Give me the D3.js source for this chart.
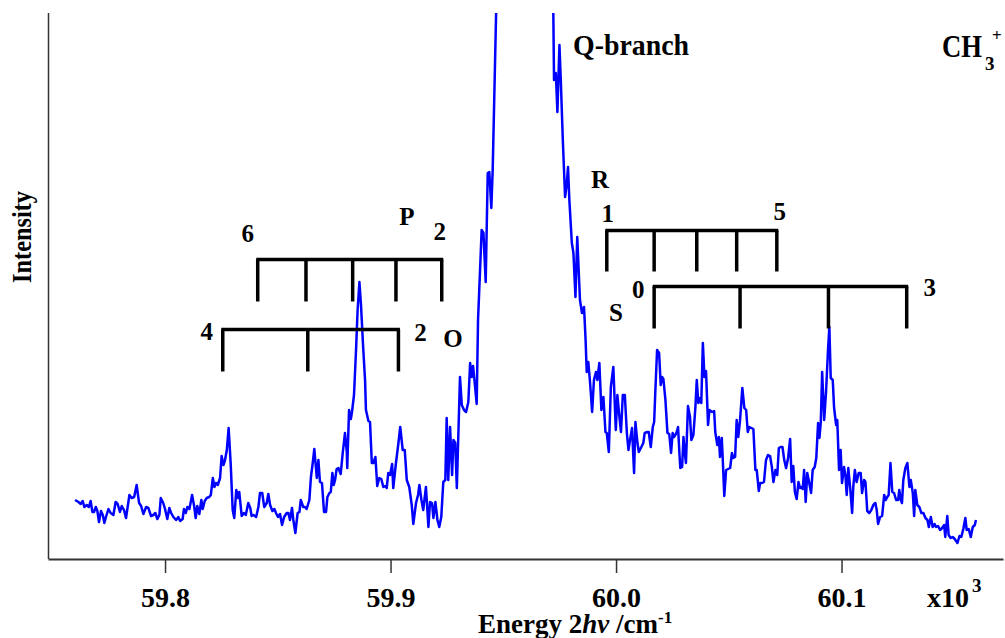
<!DOCTYPE html>
<html><head><meta charset="utf-8">
<script src="https://cdn.jsdelivr.net/npm/d3@7"></script>
<style>
html,body{margin:0;padding:0;background:#fff;}
svg{display:block;}
text{font-family:"Liberation Serif","Times New Roman",serif;font-weight:bold;fill:#000;}
</style></head>
<body><svg id="c" width="1005" height="638"></svg>
<script>
// ---- data: photoelectron spectrum of CH3+ (energy in cm^-1, intensity in arb. units)
const energy = [59760.1,59761.6,59762.6,59763.5,59764.2,59765.3,59766.2,59767.0,59767.8,59768.5,59769.3,59770.0,59770.7,59771.6,59772.4,59773.1,59773.8,59774.9,59775.9,59777.1,59778.1,59779.0,59780.0,59780.8,59781.8,59782.7,59784.2,59785.2,59786.3,59787.4,59788.5,59789.4,59790.4,59791.6,59792.6,59793.8,59794.8,59795.7,59796.6,59797.5,59798.1,59799.2,59800.0,59801.0,59801.9,59802.7,59803.7,59804.9,59805.9,59806.7,59807.8,59808.4,59809.2,59809.9,59810.8,59812.0,59812.9,59813.6,59814.3,59815.2,59816.1,59816.7,59817.6,59818.5,59819.6,59820.3,59821.2,59821.9,59822.6,59823.4,59824.4,59825.1,59825.9,59826.6,59827.4,59828.2,59829.1,59830.0,59830.7,59831.6,59832.4,59832.9,59834.0,59835.0,59835.8,59836.9,59837.8,59838.4,59839.2,59840.4,59841.4,59842.1,59843.1,59844.0,59845.1,59845.8,59846.6,59847.6,59848.5,59849.2,59850.1,59851.0,59851.9,59852.8,59854.0,59854.7,59855.4,59856.3,59856.9,59857.8,59858.8,59859.6,59860.2,59861.3,59862.1,59862.8,59864.0,59864.7,59865.5,59866.2,59867.3,59868.0,59868.7,59869.6,59870.5,59871.4,59872.0,59872.9,59873.5,59874.2,59874.8,59875.4,59876.1,59876.9,59877.9,59878.8,59879.8,59880.6,59880.8,59881.6,59882.4,59882.9,59883.8,59884.7,59885.4,59886.2,59886.9,59887.8,59888.7,59889.1,59890.2,59890.9,59891.7,59892.4,59893.3,59894.1,59895.0,59895.9,59896.8,59897.7,59898.3,59899.0,59899.8,59900.7,59901.2,59902.4,59903.5,59904.3,59905.4,59906.3,59907.2,59908.3,59909.4,59910.1,59911.3,59912.2,59912.8,59913.7,59914.5,59915.7,59916.8,59917.5,59918.4,59919.0,59919.9,59920.8,59921.6,59922.5,59923.4,59924.3,59924.9,59925.6,59926.4,59927.3,59927.9,59928.7,59929.4,59930.8,59931.6,59932.6,59933.5,59934.5,59935.3,59936.0,59936.6,59937.5,59938.2,59938.8,59939.7,59940.4,59941.2,59942.2,59943.1,59943.8,59944.7,59945.3,59946.8,59947.7,59953.0,59959.7,59966.3,59971.4,59972.2,59972.5,59973.3,59974.0,59974.9,59975.5,59976.4,59977.4,59978.1,59978.7,59979.3,59980.4,59981.1,59982.0,59982.8,59984.0,59984.9,59985.8,59986.5,59987.0,59987.7,59988.5,59989.4,59990.2,59991.1,59991.7,59992.6,59993.5,59994.4,59995.3,59995.9,59996.8,59997.7,59998.8,59999.9,60000.6,60001.5,60002.2,60003.0,60003.9,60004.8,60005.5,60006.2,60007.1,60008.0,60008.6,60009.5,60010.1,60011.0,60012.1,60012.7,60013.9,60014.5,60015.4,60016.3,60016.9,60017.4,60018.2,60019.1,60019.8,60020.4,60021.0,60021.9,60022.8,60023.6,60024.4,60025.1,60025.7,60026.3,60026.9,60027.5,60028.1,60028.5,60029.3,60029.9,60030.5,60031.0,60031.9,60032.8,60033.4,60034.3,60035.2,60035.8,60036.5,60037.3,60037.8,60038.5,60039.2,60039.9,60040.8,60041.4,60042.6,60043.5,60044.0,60044.9,60045.6,60046.1,60046.9,60047.3,60048.0,60048.8,60049.7,60050.6,60051.4,60052.0,60052.8,60053.5,60054.2,60055.0,60056.0,60056.9,60057.7,60058.4,60059.1,60060.0,60060.9,60061.8,60062.4,60063.3,60063.9,60064.8,60065.6,60066.5,60067.4,60068.3,60069.1,60069.8,60070.7,60071.5,60072.2,60073.0,60073.8,60074.6,60075.4,60076.3,60077.2,60077.9,60078.6,60079.3,60080.1,60080.9,60081.6,60082.2,60082.8,60083.4,60084.1,60084.8,60085.6,60086.5,60087.2,60088.1,60088.8,60089.6,60090.2,60090.8,60091.4,60092.3,60093.1,60094.0,60094.6,60095.2,60096.1,60096.7,60097.6,60098.1,60098.9,60099.6,60100.2,60101.1,60101.7,60102.3,60103.0,60103.8,60104.7,60105.2,60105.9,60106.7,60107.6,60108.5,60109.1,60110.0,60110.6,60111.4,60112.3,60113.2,60114.1,60115.0,60115.6,60116.2,60117.1,60118.0,60118.9,60119.6,60120.3,60120.9,60121.7,60122.5,60123.3,60124.2,60125.1,60125.6,60126.3,60126.8,60127.4,60128.3,60129.2,60130.1,60130.7,60131.6,60132.2,60132.7,60133.6,60134.5,60135.4,60136.3,60137.2,60138.1,60138.7,60139.6,60140.4,60141.3,60141.9,60142.8,60143.7,60144.6,60145.5,60146.0,60146.9,60147.5,60148.4,60149.3,60150.2,60151.4,60152.3,60153.1,60154.0,60154.9,60155.5,60156.4,60157.3,60158.2,60159.1,60159.6];
const intensity = [59,57,55,58,52,54,52,58,47,47,52,48,37,48,44,36,42,50,46,44,57,55,47,53,49,41,64,61,62,74,56,53,45,52,51,43,44,46,40,44,61,56,50,40,51,46,42,39,42,38,40,50,46,52,50,64,53,41,53,45,59,50,58,61,62,64,81,72,76,74,81,103,94,99,109,131,96,49,41,69,61,67,43,46,44,56,51,43,44,42,52,66,66,52,56,65,54,48,50,46,42,45,34,42,46,46,39,51,39,26,46,47,59,52,52,50,59,82,96,110,81,99,77,76,47,47,62,66,67,86,74,79,90,91,85,106,126,107,91,149,140,147,164,209,249,277,254,214,179,149,138,137,96,96,102,73,81,80,72,73,71,86,84,95,71,96,116,132,109,109,79,72,54,35,56,64,74,59,49,72,32,57,56,41,57,39,32,42,77,79,141,79,132,84,119,116,71,182,154,149,147,157,196,182,193,172,155,239,289,329,326,277,386,387,351,389,544,620,760,820,760,640,544,479,486,447,514,479,419,362,374,392,359,316,306,262,322,259,246,252,219,187,197,176,147,179,187,179,196,149,162,127,126,107,172,192,129,164,142,127,164,164,126,109,119,131,86,137,116,107,111,116,126,127,127,112,132,137,166,209,206,174,182,180,159,126,125,106,126,122,124,127,132,106,91,92,122,106,96,153,142,119,124,152,179,156,161,156,216,182,188,134,149,147,148,127,114,122,102,121,101,63,89,90,91,106,101,102,139,122,139,171,151,149,127,132,131,130,89,89,68,76,76,77,99,104,103,92,77,89,84,111,112,112,99,91,101,120,77,93,67,60,77,71,72,70,89,57,86,77,66,89,92,101,136,121,137,187,139,166,209,232,181,179,151,134,139,89,109,76,92,84,64,91,72,46,72,89,77,86,86,66,79,77,48,46,49,54,56,49,35,42,43,64,59,62,64,96,67,66,59,59,69,59,56,79,91,96,72,79,66,43,69,54,52,46,46,41,39,32,42,32,35,32,33,29,31,34,22,43,24,21,22,20,16,23,22,30,41,29,30,22,32,34,39];

// axis ticks
const tickValues = [59800, 59900, 60000, 60100];
const tickLabels = ["59.8", "59.9", "60.0", "60.1"];

// rotational assignment combs (line positions, cm^-1)
const combP = [59841.1, 59862.5, 59883.2, 59902.4, 59922.7];
const combO = [59825.6, 59863.3, 59903.5];
const combR = [59995.9, 60016.9, 60035.8, 60053.5, 60071.3];
const combS = [60016.9, 60055.0, 60094.2, 60128.9];

// ---- layout
const svg = d3.select("#c");
const L = 48, R = 1003, T = 13, B = 559;
const x = d3.scaleLinear().domain([59748.1, 60171.6]).range([L, R]);
const y = d3.scaleLinear().domain([0, 546]).range([B, T]);

svg.append("clipPath").attr("id", "pc").append("rect")
  .attr("x", L).attr("y", T).attr("width", R - L).attr("height", B - T);

// spectrum
const pts = energy.map((e, i) => [e, intensity[i]]);
svg.append("path").datum(pts)
  .attr("clip-path", "url(#pc)")
  .attr("fill", "none").attr("stroke", "#0000ff").attr("stroke-width", 2.5)
  .attr("stroke-linejoin", "round")
  .attr("d", d3.line().x(d => x(d[0])).y(d => y(d[1])));

// axes
const ax = svg.append("g").attr("transform", `translate(0,${B})`)
  .call(d3.axisBottom(x).tickValues(tickValues).tickSize(14).tickSizeOuter(0)
    .tickFormat((d, i) => tickLabels[i]));
ax.select(".domain").attr("stroke", "#333").attr("stroke-width", 2);
ax.selectAll(".tick line").attr("stroke", "#333").attr("stroke-width", 1.5);
ax.selectAll(".tick text").attr("y", 48).attr("dy", null)
  .style("font-family", '"Liberation Serif",serif').style("font-weight", "bold")
  .style("font-size", "28px").attr("fill", "#000");

svg.append("line").attr("x1", L + 0.5).attr("x2", L + 0.5).attr("y1", T).attr("y2", B)
  .attr("stroke", "#333").attr("stroke-width", 1.5);

// axis titles
const xt = svg.append("text").attr("x", 478).attr("y", 633).style("font-size", "27px");
xt.append("tspan").text("Energy 2");
xt.append("tspan").style("font-style", "italic").text("hv");
xt.append("tspan").text(" /cm");
xt.append("tspan").attr("dy", -10).style("font-size", "17px").text("-1");

svg.append("text").attr("transform", "translate(31,237) rotate(-90)")
  .attr("text-anchor", "middle").style("font-size", "27px")
  .attr("textLength", 92).attr("lengthAdjust", "spacingAndGlyphs").text("Intensity");

svg.append("text").attr("x", 927).attr("y", 607).style("font-size", "28px").text("x10");
svg.append("text").attr("x", 972).attr("y", 592).style("font-size", "19px").text("3");

// top labels
svg.append("text").attr("x", 573).attr("y", 55).style("font-size", "30px")
  .attr("textLength", 116).attr("lengthAdjust", "spacingAndGlyphs").text("Q-branch");
svg.append("text").attr("transform", "translate(942,57) scale(0.86,1)")
  .style("font-size", "31px").text("CH");
svg.append("text").attr("x", 985).attr("y", 70).style("font-size", "19px").text("3");
svg.append("text").attr("x", 992).attr("y", 41).style("font-size", "17px").text("+");

// combs
function comb(vals, barY, tickLen) {
  const g = svg.append("g").attr("stroke", "#000").attr("stroke-width", 3.5).attr("fill", "none");
  g.append("line").attr("x1", x(vals[0]) - 1.5).attr("x2", x(vals[vals.length - 1]) + 1.5)
    .attr("y1", barY).attr("y2", barY);
  g.selectAll("line.t").data(vals).enter().append("line").attr("class", "t")
    .attr("x1", d => x(d)).attr("x2", d => x(d)).attr("y1", barY).attr("y2", barY + tickLen);
}
comb(combP, 259.5, 42);
comb(combO, 329.5, 42);
comb(combR, 230.5, 41);
comb(combS, 286.5, 42);

function lab(t, px, py) {
  svg.append("text").attr("x", px).attr("y", py).attr("text-anchor", "middle")
    .style("font-size", "25px").text(t);
}
lab("6", x(combP[0]) - 10, 242);
lab("P", 407, 225);
lab("2", x(combP[4]) - 2, 240);
lab("4", x(combO[0]) - 16, 340);
lab("2", x(combO[2]) + 22, 341);
lab("O", 453, 347);
lab("R", 600, 188);
lab("1", x(combR[0]) + 1, 222);
lab("5", x(combR[4]) + 3, 220);
lab("0", x(combS[0]) - 16, 298);
lab("S", 616, 321);
lab("3", x(combS[3]) + 23, 296);
</script></body></html>
